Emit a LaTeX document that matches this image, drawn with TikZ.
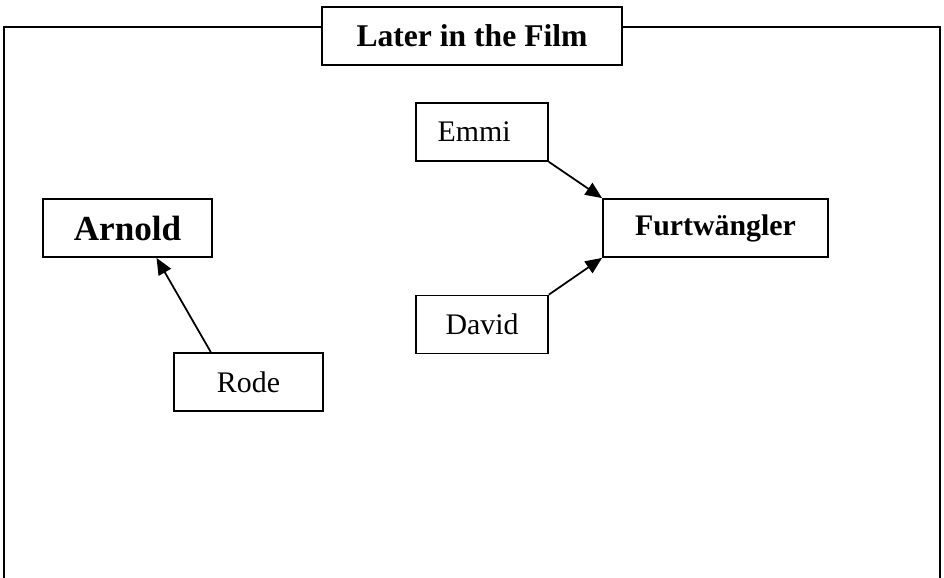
\documentclass[tikz,border=0pt]{standalone}
\usepackage{fontspec}
\setmainfont{Liberation Serif}
\usetikzlibrary{arrows.meta,calc}

\begin{document}
\begin{tikzpicture}[x=0.02cm, y=-0.02cm, line width=1pt,
  box/.style={draw, minimum height=58*0.02cm, inner sep=0pt, font=\fontsize{17}{20}\selectfont},
  hit/.style={-{Triangle[length=9.5pt,width=8pt]}}]

\useasboundingbox (0,0) rectangle (944,578);

\node [box, minimum width=300*0.02cm, font=\fontsize{18}{21}\selectfont\bfseries] (title) at (472,36) {Later in the Film};

\node [box, minimum width=169*0.02cm, font=\fontsize{20}{24}\selectfont\bfseries] (arnold) at (127.5,228) {Arnold};
\node [box, minimum width=149*0.02cm] (rode) at (248.5,382) {Rode};
\node [box, minimum width=132*0.02cm] (emmi) at (482,132) {Emmi\hspace*{9pt}};
\node [box, minimum width=132*0.02cm] (david) at (482,324.5) {David};
\node [box, minimum width=225*0.02cm, font=\fontsize{17}{20}\selectfont\bfseries] (furtw) at (715.5,228) {Furtwängler};

% frame, open at the bottom
\coordinate (ftl) at (4,27);
\coordinate (ftr) at (940,27);
\coordinate (fbl) at (4,590);
\coordinate (fbr) at (940,590);
\draw (fbl) -- (ftl) -- (ftl -| title.west);
\draw (title.east |- ftr) -- (ftr) -- (fbr);

\draw [hit] ($(rode.north west)!0.25!(rode.north east)$) -- ($(arnold.south west)!0.67!(arnold.south east)$);
\draw [hit] (emmi.south east) -- (furtw.north west);
\draw [hit] (david.north east) -- (furtw.south west);
\end{tikzpicture}
\end{document}
